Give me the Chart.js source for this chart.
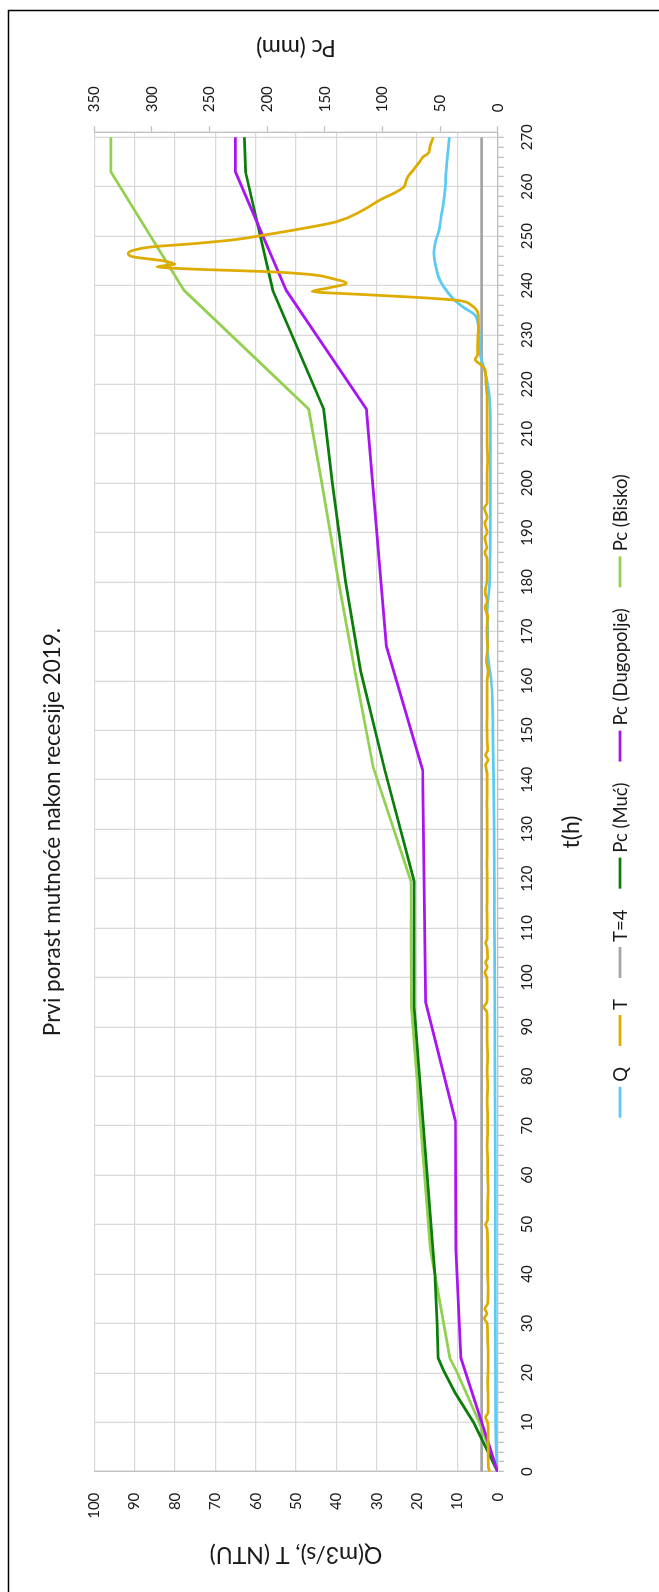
<!DOCTYPE html>
<html>
<head>
<meta charset="utf-8">
<title>Prvi porast mutnoće nakon recesije 2019.</title>
<script src="https://cdn.jsdelivr.net/npm/chart.js@4.4.1/dist/chart.umd.min.js"></script>
<style>
  html, body { margin: 0; padding: 0; background: #fff; overflow: hidden; }
  /* chart is laid out landscape, then turned to stand on its side */
  #wrap {
    position: absolute; left: 0; top: 0;
    width: 1592px; height: 659px;
    transform-origin: 0 0;
    transform: translate(0, 1592px) rotate(-90deg);
  }
</style>
</head>
<body>
<div id="wrap"><canvas id="chart" width="1592" height="659"></canvas></div>
<script>
// Q (m3/s)
const qHours  = [0, 5, 10, 30, 60, 90, 110, 130, 140, 150, 156, 160, 163, 166, 170, 174, 177, 180, 185, 195, 205, 213, 217, 220, 223, 226, 229, 232, 234, 235.6, 237.3, 239.9, 241.8, 244, 246.5, 249, 251, 254, 257, 260, 263, 266, 270];
const qValues = [0.1, 0.4, 0.5, 0.6, 0.6, 0.7, 0.8, 0.9, 1.0, 1.2, 1.3, 1.6, 2.1, 2.5, 2.5, 2.6, 2.3, 2.0, 1.9, 1.8, 1.8, 1.8, 2.0, 2.5, 3.3, 4.3, 4.5, 4.8, 5.6, 8.5, 11, 13.5, 14.7, 15.4, 15.8, 15.4, 14.6, 14.0, 13.4, 13.0, 12.8, 12.5, 12.0];

// T (NTU)
const tHours  = [0, 1, 3, 6, 9, 10, 11, 12, 15, 18, 21, 24, 27, 30, 31, 32, 33, 34, 37, 40, 43, 46, 49, 50, 51, 54, 57, 60, 63, 66, 69, 72, 75, 78, 81, 84, 87, 90, 93, 94, 95, 98, 100, 101, 102, 103, 104, 106, 107, 108, 111, 114, 117, 120, 123, 126, 129, 132, 135, 138, 141, 143, 144, 145, 146, 148, 151, 154, 157, 160, 162, 164, 167, 170, 173, 175, 176, 178, 180, 183, 185, 186, 187, 189, 190, 192, 193, 195, 196, 199, 202, 205, 208, 211, 214, 217, 220, 223, 224, 225, 226, 228, 231, 234, 235, 236, 237, 237.6, 238.2, 238.8, 239.5, 240.5, 241.4, 242.2, 242.8, 243.3, 243.8, 244.3, 245, 245.8, 246.5, 247.2, 247.8, 248.5, 249.3, 250.2, 251.3, 252.9, 255.3, 257.3, 259, 260, 261, 262.1, 263.4, 265.1, 266, 266.8, 268, 270];
const tValues = [2.0, 2.3, 2.4, 2.4, 2.4, 2.5, 3.0, 2.4, 2.4, 2.5, 2.4, 2.4, 2.5, 2.6, 3.3, 2.7, 3.2, 2.5, 2.4, 2.5, 2.5, 2.5, 2.6, 3.0, 2.5, 2.5, 2.4, 2.5, 2.5, 2.6, 2.5, 2.5, 2.6, 2.5, 2.6, 2.5, 2.6, 2.6, 2.7, 3.4, 2.7, 2.6, 2.7, 3.2, 2.6, 3.0, 2.5, 2.6, 3.0, 2.6, 2.6, 2.7, 2.6, 2.6, 2.7, 2.6, 2.6, 2.6, 2.7, 2.6, 2.6, 3.0, 2.4, 3.0, 2.5, 2.6, 2.7, 2.6, 2.6, 2.6, 2.4, 2.8, 2.5, 2.7, 2.5, 3.1, 2.6, 3.1, 2.7, 2.6, 2.7, 3.2, 2.7, 3.2, 2.6, 3.2, 2.6, 3.3, 2.6, 2.6, 2.6, 2.5, 2.6, 2.6, 2.6, 2.6, 2.9, 3.1, 4.2, 5.6, 5.0, 5.0, 4.8, 4.8, 5.2, 6.5, 10, 20, 34, 46, 42, 37.5, 41, 46, 57, 75, 84.5, 80, 83, 90.3, 91.6, 90, 86, 75, 65, 58, 50, 40, 33.3, 29.2, 25.0, 23.2, 22.8, 22.2, 20.9, 19.3, 18.5, 17.2, 16.8, 16.0];

// T=4 reference level
const limitHours  = [0, 270];
const limitValues = [4, 4];

// Pc (mm) at the three rain gauges
const mucHours  = [0, 10, 16, 20.5, 23, 30, 40, 47, 94, 119.5, 142, 162, 180, 200, 215, 239, 263, 270];
const mucValues = [0, 21, 37, 47, 51.6, 52.5, 54.5, 56.8, 72.5, 72.5, 98, 119, 132, 143.5, 151, 195.1, 218.8, 219.7];

const dugHours  = [0, 23, 45, 71, 95, 142, 167, 215, 239, 263, 270];
const dugValues = [0, 32, 36.2, 36.8, 62.6, 65.2, 96.5, 114, 183.4, 227.5, 227.5];

const biskoHours  = [0, 10, 20, 23, 45, 94, 119.5, 142.5, 162, 180, 200, 215, 239, 263, 270];
const biskoValues = [0, 16, 35, 41.5, 58.5, 74.8, 75.4, 108, 124, 138, 152.5, 164, 272, 335.6, 335.6];

const chartTitle = 'Prvi porast mutnoće nakon recesije 2019.';
const xTitle = 't(h)';
const yLeftTitle = 'Q(m3/s), T (NTU)';
const yRightTitle = 'Pc (mm)';

const FONT = 'Lato';
const TEXT = '#1a1a1a';
const GRID = '#d9d9d9';
const AXIS = '#bfbfbf';

function points(hours, values) {
  return hours.map((h, i) => ({ x: h, y: values[i] }));
}

function line(label, hours, values, color, axis, order, smooth) {
  return {
    label: label,
    data: points(hours, values),
    borderColor: color,
    backgroundColor: color,
    borderWidth: 2.75,
    pointRadius: 0,
    fill: false,
    yAxisID: axis,
    order: order,
    cubicInterpolationMode: smooth ? 'monotone' : 'default',
    tension: 0
  };
}

// titles, frame and legend drawn straight onto the canvas
const decorations = {
  id: 'decorations',
  afterDraw(chart) {
    const ctx = chart.ctx;
    const area = chart.chartArea;
    const midY = (area.top + area.bottom) / 2;
    ctx.save();

    // outer frame (only the two visible edges)
    ctx.strokeStyle = '#000';
    ctx.lineWidth = 1.5;
    ctx.beginPath();
    ctx.moveTo(-5, 8.5);
    ctx.lineTo(1581.5, 8.5);
    ctx.lineTo(1581.5, 700);
    ctx.stroke();

    ctx.fillStyle = TEXT;
    ctx.textAlign = 'center';
    ctx.textBaseline = 'middle';

    ctx.font = '22.5px ' + FONT;
    ctx.fillText(chartTitle, 760, 53);

    ctx.font = '23px ' + FONT;
    ctx.fillText(xTitle, 760, 572);

    ctx.save();
    ctx.translate(38, midY);
    ctx.rotate(-Math.PI / 2);
    ctx.fillText(yLeftTitle, 0, 0);
    ctx.restore();

    ctx.save();
    ctx.translate(1545, midY);
    ctx.rotate(-Math.PI / 2);
    ctx.fillText(yRightTitle, 0, 0);
    ctx.restore();

    // legend
    const lineLen = 31, textGap = 5, itemGap = 21, legendY = 621;
    ctx.font = '18.5px ' + FONT;
    const items = chart.data.datasets.map(ds => ({
      text: ds.label, color: ds.borderColor, width: ds.borderWidth,
      size: lineLen + textGap + ctx.measureText(ds.label).width
    }));
    const total = items.reduce((s, it) => s + it.size, 0) + itemGap * (items.length - 1);
    let x = chart.width / 2 - total / 2;
    ctx.textAlign = 'left';
    items.forEach(it => {
      ctx.strokeStyle = it.color;
      ctx.lineWidth = it.width;
      ctx.beginPath();
      ctx.moveTo(x, legendY - 1);
      ctx.lineTo(x + lineLen, legendY - 1);
      ctx.stroke();
      ctx.fillText(it.text, x + lineLen + textGap, legendY);
      x += it.size + itemGap;
    });

    ctx.restore();
  }
};

const tickFont = { family: FONT, size: 15 };

new Chart(document.getElementById('chart'), {
  type: 'line',
  data: {
    datasets: [
      line('Q', qHours, qValues, '#5ccbf4', 'y', 4, true),
      line('T', tHours, tValues, '#deac00', 'y', 0, true),
      line('T=4', limitHours, limitValues, '#a5a5a5', 'y', 5, false),
      line('Pc (Muć)', mucHours, mucValues, '#0a7d0a', 'y1', 2, false),
      line('Pc (Dugopolje)', dugHours, dugValues, '#a815f2', 'y1', 1, false),
      line('Pc (Bisko)', biskoHours, biskoValues, '#92d050', 'y1', 3, false)
    ]
  },
  options: {
    responsive: false,
    maintainAspectRatio: false,
    animation: false,
    devicePixelRatio: 1,
    layout: { padding: { top: 94.3, left: 0, right: 0, bottom: 0 } },
    plugins: {
      legend: { display: false },
      title: { display: false },
      tooltip: { enabled: false }
    },
    scales: {
      x: {
        type: 'linear',
        position: 'bottom',
        min: 0,
        max: 271,
        ticks: {
          stepSize: 2,
          autoSkip: false,
          maxRotation: 0,
          includeBounds: false,
          padding: 14,
          color: TEXT,
          font: tickFont,
          callback: v => (v % 10 === 0 ? String(v) : '')
        },
        grid: {
          color: c => (c.tick && c.tick.value % 10 === 0 ? GRID : 'rgba(0,0,0,0)'),
          lineWidth: 1.3,
          tickColor: AXIS,
          tickLength: 6,
          tickWidth: 1.3
        },
        border: { color: AXIS, width: 1.3 },
        afterFit: s => { s.height = 161.3; }
      },
      y: {
        type: 'linear',
        position: 'left',
        min: 0,
        max: 100,
        ticks: { stepSize: 10, padding: 21, color: TEXT, font: tickFont },
        grid: { color: GRID, lineWidth: 1.3, drawTicks: false },
        border: { color: AXIS, width: 1.3 },
        afterFit: s => { s.width = 120.3; }
      },
      y1: {
        type: 'linear',
        position: 'right',
        min: 0,
        max: 350,
        ticks: { stepSize: 50, padding: 14, color: TEXT, font: tickFont },
        grid: { drawOnChartArea: false, tickColor: AXIS, tickLength: 6, tickWidth: 1.3 },
        border: { color: AXIS, width: 1.3 },
        afterFit: s => { s.width = 132.3; }
      }
    }
  },
  plugins: [decorations]
});
</script>
</body>
</html>
